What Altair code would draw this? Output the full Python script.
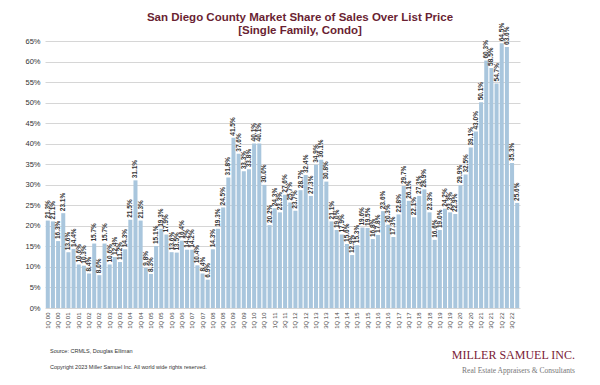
import altair as alt
import pandas as pd

years = [f"{y:02d}" for y in range(0, 23)]
quarters = [f"{q}Q {y}" for y in years for q in range(1, 5)]

values = [
    21.3, 21.1, 16.3, 23.1,
    13.6, 14.4, 10.6, 10.3,
    8.4, 15.7, 8.0, 15.7,
    10.6, 12.4, 11.2, 14.3,
    21.5, 31.1, 21.3, 9.8,
    8.3, 15.1, 19.3, 17.9,
    13.6, 13.5, 16.4, 14.2,
    14.2, 10.4, 8.4, 6.9,
    14.3, 19.3, 24.5, 31.8,
    41.5, 37.6, 33.3, 33.8,
    40.1, 40.1, 30.0, 20.2,
    24.3, 23.3, 27.6, 25.7,
    23.7, 28.7, 32.4, 27.3,
    34.9, 36.1, 30.8, 21.1,
    19.0, 17.9, 15.6, 12.9,
    15.3, 19.6, 19.5, 16.8,
    17.8, 23.6, 20.3, 17.3,
    22.8, 29.7, 26.1, 22.1,
    27.3, 28.9, 23.3, 16.6,
    19.0, 24.2, 23.3, 22.9,
    29.9, 32.5, 39.1, 43.0,
    50.1, 60.3, 58.5, 54.7,
    64.5, 63.6, 35.3, 25.6,
]

y_ticks = list(range(0, 70, 5))
title_lines = ["San Diego County Market Share of Sales Over List Price", "[Single Family, Condo]"]
source_text = "Source: CRMLS, Douglas Elliman"
copyright_text = "Copyright 2023 Miller Samuel Inc.  All world wide rights reserved."
logo_text = "MILLER SAMUEL INC."
logo_sub = "Real Estate Appraisers & Consultants"

df = pd.DataFrame({"q": quarters, "v": values, "lbl": [f"{v:.1f}%" for v in values]})

FONT = "Liberation Sans"

x_enc = alt.X(
    "q:N", sort=quarters,
    scale=alt.Scale(paddingInner=0.22, paddingOuter=0.15),
    axis=alt.Axis(values=quarters[::2], labelAngle=270, labelFontSize=6, labelColor="#444",
                  labelFont=FONT, domain=False, ticks=False, labelPadding=4, title=None),
)
y_enc = alt.Y(
    "v:Q", scale=alt.Scale(domain=[0, 65.05], nice=False),
    axis=alt.Axis(values=y_ticks, tickCount=30, labelExpr="datum.value + '%'", labelFontSize=7.5,
                  labelColor="#333", labelFont=FONT, domain=False, ticks=False,
                  labelOverlap=False, labelPadding=5, gridColor="#d6d6d6", gridWidth=1, title=None),
)

bars = alt.Chart(df).mark_bar(color="#a9c6dd").encode(x=x_enc, y=y_enc)

labels = alt.Chart(df).mark_text(
    angle=270, align="left", baseline="middle", dx=2, fontSize=6.5,
    fontWeight="bold", color="#333", font=FONT,
).encode(x=alt.X("q:N", sort=quarters), y=alt.Y("v:Q"), text="lbl:N")

def note(text, x, y, size, color, align="left", font=FONT, style="normal", weight="normal"):
    return alt.Chart(pd.DataFrame({"t": [text]})).mark_text(
        align=align, baseline="middle", fontSize=size, color=color, font=font,
        fontStyle=style, fontWeight=weight,
    ).encode(x=alt.value(x), y=alt.value(y), text="t:N")

t1 = note(title_lines[0], 255, -23, 11.5, "#6a1f33", align="center", weight="bold")
t2 = note(title_lines[1], 255, -10, 11.5, "#6a1f33", align="center", weight="bold")
src = note(source_text, 5, 310, 5.5, "#333")
cpy = note(copyright_text, 5, 326, 5.5, "#333")
logo = note(logo_text, 530, 314, 12, "#7a2236", align="right", font="Liberation Serif")
sub = note(logo_sub, 530, 330, 7.5, "#777", align="right", font="Liberation Serif")

chart = alt.layer(bars, labels, t1, t2, src, cpy, logo, sub).properties(
    width=475, height=267,
    autosize=alt.AutoSizeParams(type="none"),
    padding={"left": 37, "top": 33, "right": 72, "bottom": 69},
    background="white",
).configure_view(stroke=None)

chart.save("out.html", embed_options={"renderer": "svg", "actions": False})
